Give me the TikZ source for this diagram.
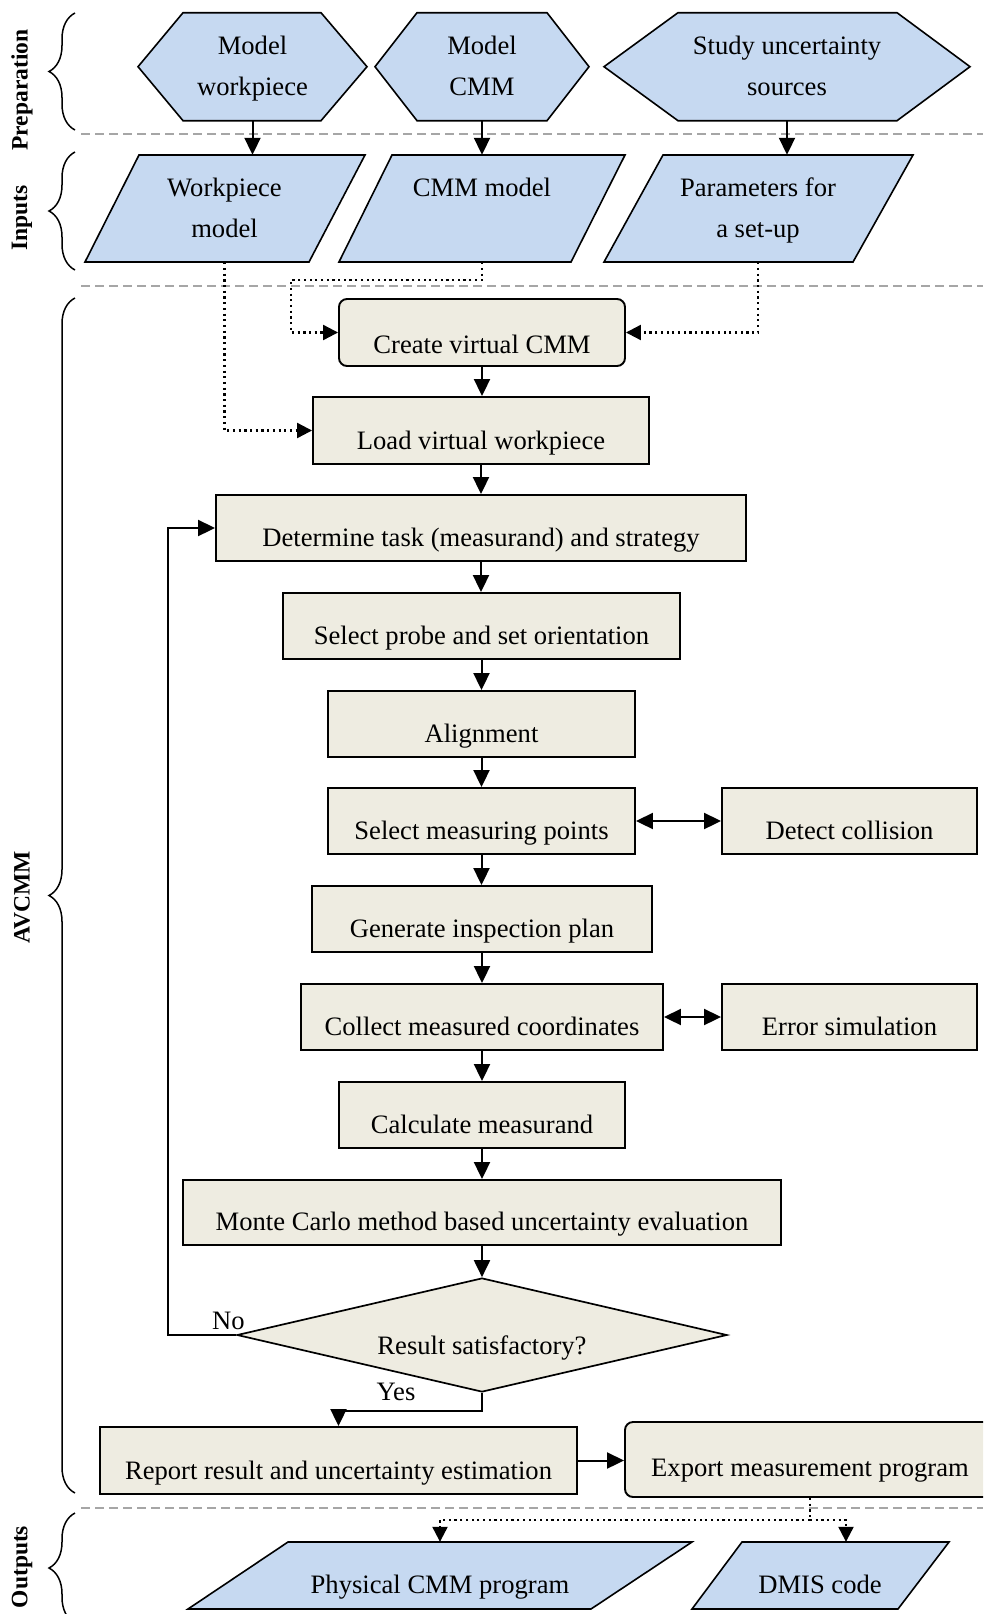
\documentclass[tikz,border=0pt]{standalone}
\usepackage{fontspec}
\setmainfont{Liberation Serif}
\usetikzlibrary{arrows.meta,shapes.geometric,decorations.pathreplacing,calc}
\definecolor{boxfill}{HTML}{EEECE1}
\definecolor{inblue}{HTML}{C6D9F1}
\definecolor{sepgray}{HTML}{A6A6A6}
\begin{document}
\begin{tikzpicture}[x=1pt,y=-1pt,
  every node/.style={font=\fontsize{26.6pt}{41pt}\selectfont},
  shp/.style={draw=black, line width=1.6pt, fill=inblue},
  txt/.style={inner sep=0pt, align=center},
  box/.style={draw=black, line width=1.9pt, fill=boxfill, inner sep=0pt, text height=52.5pt, text depth=14.5pt},
  rbox/.style={box, rounded corners=8pt},
  dia/.style={diamond, draw=black, line width=1.7pt, fill=boxfill, inner sep=0pt, aspect=4.3, minimum width=490pt, minimum height=114pt, text height=44pt, text depth=6pt},
  arr/.style={line width=2pt, -{Triangle[length=17pt,width=16pt]}},
  darr/.style={line width=2pt, {Triangle[length=17pt,width=16pt]}-{Triangle[length=17pt,width=16pt]}},
  dotarr/.style={line width=2.2pt, dash pattern=on 2.2pt off 3.5pt, -{Triangle[length=15pt,width=15pt]}},
  dotl/.style={line width=2.2pt, dash pattern=on 2.2pt off 3.5pt},
  sep/.style={draw=sepgray, line width=1.7pt, dash pattern=on 9pt off 5pt},
  brc/.style={decorate, decoration={brace, amplitude=26pt}, line width=1.5pt},
  vlab/.style={rotate=90, font=\fontsize{23.5pt}{28pt}\selectfont\bfseries, inner sep=0pt}]
\useasboundingbox (0,0) rectangle (983,1614);
\clip (0,0) rectangle (983,1614);

% separators
\draw[sep] (81,134) -- (983,134);
\draw[sep] (81,286) -- (983,286);
\draw[sep] (81,1508) -- (983,1508);

% braces and side labels
\draw[brc] (75,130) -- (75,13);
\draw[brc] (75,270) -- (75,152);
\draw[brc] (75,1493) -- (75,298);
\draw[brc] (75,1623) -- (75,1513);
\node[vlab] (lprep) at (22,90) {Preparation};
\node[vlab] (linp) at (22,218) {Inputs};
\node[vlab] (lav) at (22,897) {AVCMM};
\node[vlab] (lout) at (22,1567) {Outputs};

% hexagons
\filldraw[shp] (138,66.7) -- (183,12.7) -- (321,12.7) -- (367,66.7) -- (321,120.7) -- (183,120.7) -- cycle;
\filldraw[shp] (375,66.7) -- (417,12.7) -- (547,12.7) -- (589,66.7) -- (547,120.7) -- (417,120.7) -- cycle;
\filldraw[shp] (604,66.7) -- (678,12.7) -- (897,12.7) -- (970,66.7) -- (897,120.7) -- (678,120.7) -- cycle;
\node[txt, minimum width=229pt, minimum height=108pt] (hw) at (252.5,66.7) {\strut Model\\\strut workpiece};
\node[txt, minimum width=214pt, minimum height=108pt] (hc) at (482,66.7) {\strut Model\\\strut CMM};
\node[txt, minimum width=366pt, minimum height=108pt] (hs) at (787,66.7) {\strut Study uncertainty\\\strut sources};

% input parallelograms
\filldraw[shp] (139,155) -- (365,155) -- (309,262) -- (85,262) -- cycle;
\filldraw[shp] (392,155) -- (625,155) -- (571,262) -- (339,262) -- cycle;
\filldraw[shp] (663,155) -- (913,155) -- (853,262) -- (604,262) -- cycle;
\node[txt, minimum width=220pt, minimum height=107pt] (wm) at (224.5,208.5) {\strut Workpiece\\\strut model};
\node[txt, minimum width=230pt, minimum height=107pt] (cm) at (482,208.5) {\strut CMM model\\\strut};
\node[txt, minimum width=250pt, minimum height=107pt] (par) at (758,208.5) {\strut Parameters for\\\strut a set-up};

% output parallelograms
\filldraw[shp] (288,1542) -- (692,1542) -- (591,1609) -- (188,1609) -- cycle;
\filldraw[shp] (742,1542) -- (949,1542) -- (898,1609) -- (692,1609) -- cycle;
\node[inner sep=0pt, minimum width=400pt, text height=51pt, text depth=16pt] (phys) at (440,1575.5) {Physical CMM program};
\node[inner sep=0pt, minimum width=205pt, text height=51pt, text depth=16pt] (dmis) at (820,1575.5) {DMIS code};

% process boxes
\node[rbox, minimum width=286pt, text height=54pt, text depth=13pt] (create) at (482,332.5) {Create virtual CMM};
\node[box, minimum width=336pt] (load) at (481,430.5) {Load virtual workpiece};
\node[box, minimum width=530pt, text height=51.5pt] (det) at (481,528) {Determine task (measurand) and strategy};
\node[box, minimum width=397pt, text height=51.5pt] (probe) at (481.5,626) {Select probe and set orientation};
\node[box, minimum width=307pt, text height=51.5pt] (alig) at (481.5,724) {Alignment};
\node[box, minimum width=307pt, text height=51.5pt] (selp) at (481.5,821) {Select measuring points};
\node[box, minimum width=255pt, text height=51.5pt] (coll) at (849.5,821) {Detect collision};
\node[box, minimum width=340pt, text height=51.5pt] (gen) at (482,919) {Generate inspection plan};
\node[box, minimum width=362pt, text height=51.5pt] (colc) at (482,1017) {Collect measured coordinates};
\node[box, minimum width=255pt, text height=51.5pt] (err) at (849.5,1017) {Error simulation};
\node[box, minimum width=286pt, text height=51.5pt] (calcm) at (482,1115) {Calculate measurand};
\node[box, minimum width=598pt, text height=50.5pt] (mc) at (482,1212.5) {Monte Carlo method based uncertainty evaluation};
\node[dia] (dec) at (482,1335) {Result satisfactory?};
\node[box, minimum width=477pt] (rep) at (338.5,1460.5) {Report result and uncertainty estimation};
\node[rbox, minimum width=370pt, text height=54pt, text depth=21pt] (exp) at (810,1459.5) {Export measurement program};

\node[anchor=base, inner sep=0pt] (no) at (228.5,1329) {No};
\node[anchor=base, inner sep=0pt] (yes) at (396,1400) {Yes};

% connectors: preparation -> inputs
\draw[arr] (hw.south) -- (hw.south |- wm.north);
\draw[arr] (hc.south) -- (hc.south |- cm.north);
\draw[arr] (hs.south) -- (hs.south |- par.north);

% inputs -> AVCMM (dotted)
\coordinate (c2) at (291,280);
\draw[dotarr] (wm.south) |- (load.west);
\draw[dotarr] (cm.south) |- (c2) |- (create.west);
\draw[dotarr] (par.south) |- (create.east);

% main chain
\foreach \a/\b in {create/load, load/det, det/probe, probe/alig, alig/selp, selp/gen, gen/colc, colc/calcm, calcm/mc, mc/dec}
  \draw[arr] (\a.south) -- (\a.south |- \b.north);

\draw[darr] (selp.east) -- (selp.east -| coll.west);
\draw[darr] (colc.east) -- (colc.east -| err.west);

\draw[arr] (dec.west) -- ++(-68,0) |- (det.west);
\draw[arr] (dec.south) -- ++(0,18) -| (rep.north);
\draw[arr] (rep.east) -- (rep.east -| exp.west);

% outputs (dotted)
\coordinate (oj) at ($(exp.south)+(0,22)$);
\draw[dotl] (exp.south) -- (oj);
\draw[dotarr] (oj) -| (phys.north);
\draw[dotarr] (oj) -| ([xshift=26pt]dmis.north);
\end{tikzpicture}
\end{document}
